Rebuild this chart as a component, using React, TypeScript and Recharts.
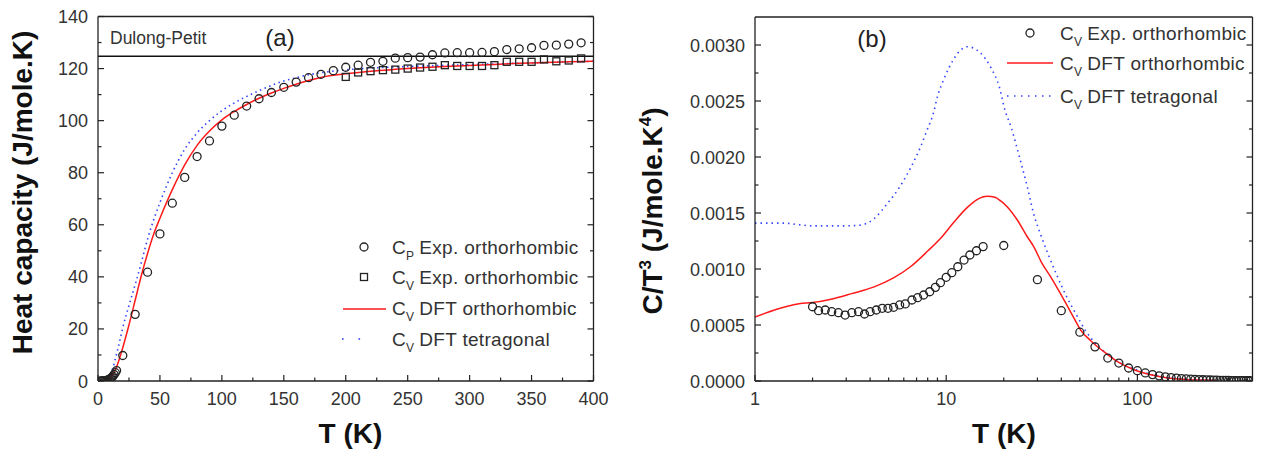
import { ComposedChart, Line, ReferenceLine, Scatter, XAxis, YAxis } from "recharts";

// ---- panel (a): heat capacity vs T ----
const cpExp: [number, number][] = [
  [2, 0.005], [3, 0.017], [4, 0.04], [5, 0.08], [6, 0.15], [7, 0.25], [8, 0.4], [9, 0.62],
  [10, 0.92], [11, 1.3], [12, 1.85], [13, 2.5], [14, 3.2], [15, 4.0],
  [20, 9.8], [30, 25.6], [40, 41.8], [50, 56.5], [60, 68.3], [70, 78.2], [80, 86.2], [90, 92.2],
  [100, 97.9], [110, 102.1], [120, 105.6], [130, 108.4], [140, 110.8], [150, 112.8], [160, 114.8],
  [170, 116.5], [180, 117.8], [190, 119.2], [200, 120.5], [210, 121.3], [220, 122.4], [230, 122.8],
  [240, 124.0], [250, 124.2], [260, 124.4], [270, 125.3], [280, 126.0], [290, 126.1], [300, 126.1],
  [310, 126.2], [320, 126.5], [330, 127.3], [340, 127.6], [350, 128.0], [360, 128.9], [370, 129.0],
  [380, 129.4], [390, 129.9],
];

const cvExp: [number, number][] = [
  [200, 116.8], [210, 118.5], [220, 119.0], [230, 119.4], [240, 119.6], [250, 120.0], [260, 120.4],
  [270, 120.7], [280, 121.3], [290, 121.0], [300, 121.0], [310, 121.0], [320, 121.3], [330, 122.6],
  [340, 122.6], [350, 122.6], [360, 123.5], [370, 122.8], [380, 123.1], [390, 123.9],
];

const cvDftOrtho: [number, number][] = [
  [5, 0.07], [8, 0.6], [10, 1.3], [12, 2.5], [14, 4.3], [16, 6.7], [18, 9.6], [20, 12.8], [25, 21.5],
  [30, 31], [35, 40.5], [40, 49], [45, 56.5], [50, 62.5], [60, 73.5], [70, 83], [80, 90.5], [90, 96],
  [100, 100.3], [110, 103.5], [120, 106.2], [130, 108.6], [140, 110.6], [150, 112.4], [160, 114],
  [170, 115.4], [180, 116.6], [190, 117.4], [200, 118], [220, 119], [240, 119.7], [260, 120.3],
  [280, 120.8], [300, 121.2], [320, 121.6], [340, 122], [360, 122.3], [380, 122.6], [400, 122.8],
];

const cvDftTetra: [number, number][] = [
  [8, 0.8], [10, 2.7], [12, 5], [14, 8.5], [16, 12.3], [18, 16.3], [20, 20.5], [25, 29], [30, 37],
  [35, 45.5], [40, 54.5], [45, 62], [50, 68.5], [55, 74.5], [60, 80], [65, 84.8], [70, 89], [80, 95.3],
  [90, 100], [100, 103.8], [110, 106.8], [120, 109.3], [130, 111.5], [140, 113.5], [150, 115.2],
  [160, 116.5], [170, 117.6], [180, 118.4], [200, 119.5], [220, 120.2], [250, 120.8], [300, 121.5],
  [350, 122.2], [400, 122.8],
];

const dulongPetit = 124.7;

const xTicksA = [0, 25, 50, 75, 100, 125, 150, 175, 200, 225, 250, 275, 300, 325, 350, 375, 400];
const yTicksA = [0, 10, 20, 30, 40, 50, 60, 70, 80, 90, 100, 110, 120, 130, 140];

// ---- panel (b): C/T^3 vs T, log T ----
const cvExpRatio: [number, number][] = [
  [2.0, 0.000663], [2.15, 0.000628], [2.33, 0.000634], [2.52, 0.000619], [2.73, 0.00061],
  [2.96, 0.000589], [3.21, 0.00061], [3.48, 0.000619], [3.74, 0.000598], [4.0, 0.000619],
  [4.31, 0.000634], [4.63, 0.000649], [4.96, 0.000649], [5.31, 0.000658], [5.71, 0.000679],
  [6.11, 0.000688], [6.62, 0.000723], [7.09, 0.000744], [7.62, 0.000768], [8.2, 0.000797],
  [8.78, 0.000836], [9.33, 0.000878], [10.0, 0.000926], [10.7, 0.000967], [11.5, 0.00102],
  [12.4, 0.00108], [13.3, 0.001125], [14.4, 0.001163], [15.6, 0.0012],
  [20, 0.00121], [30, 0.000905], [40, 0.000628], [50, 0.000436], [60, 0.000305], [70, 0.000205],
  [80, 0.00016], [90, 0.000116], [100, 0.000092], [110, 0.000072], [120, 0.000057], [130, 0.000046],
  [140, 0.000037], [150, 0.000031], [160, 0.000026], [170, 0.000022], [180, 0.000019],
  [190, 0.000016], [200, 0.000014], [210, 0.000012], [220, 0.000011], [230, 0.00001],
  [240, 0.000009], [250, 0.000008], [260, 0.0000071], [270, 0.0000064], [280, 0.0000057],
  [290, 0.0000052], [300, 0.0000047], [310, 0.0000042], [320, 0.0000039], [330, 0.0000035],
  [340, 0.0000032], [350, 0.000003], [360, 0.0000028], [370, 0.0000025], [380, 0.0000024],
  [390, 0.0000022],
];

const dftOrthoRatio: [number, number][] = [
  [1, 0.00057], [1.3, 0.00064], [1.7, 0.00069], [2, 0.0007], [2.5, 0.00073], [3.2, 0.00078],
  [4.2, 0.00084], [5.3, 0.00092], [6.5, 0.00102], [8, 0.00116], [9.3, 0.00127], [11, 0.00142],
  [12.9, 0.00155], [14.5, 0.00162], [16.4, 0.00165], [18, 0.00164], [19.2, 0.00161], [21, 0.00155],
  [23.5, 0.00144], [26.5, 0.00129], [28.7, 0.0012], [31.5, 0.00106], [35.2, 0.00093], [39, 0.0008],
  [43, 0.00067], [47, 0.00055], [50.5, 0.000455], [57, 0.00036], [67, 0.00026], [78.7, 0.000172],
  [96, 0.0001], [117.5, 0.000055], [144, 0.000027], [180, 0.000014], [220, 0.000008], [260, 0.000005],
];

const dftTetraRatio: [number, number][] = [
  [1, 0.00141], [1.4, 0.00141], [1.7, 0.001395], [2, 0.001385], [2.8, 0.001385], [3.5, 0.00139],
  [4.2, 0.00145], [4.9, 0.00158], [5.7, 0.00173], [6.5, 0.0019], [7.3, 0.00208], [7.9, 0.00223],
  [8.6, 0.0024], [9, 0.00254], [9.7, 0.00269], [11, 0.00288], [12, 0.00296], [12.9, 0.002985],
  [14, 0.00297], [15.1, 0.00293], [17.1, 0.0028], [19, 0.00262], [20.2, 0.00243], [21.8, 0.00227],
  [24.6, 0.00195], [26.5, 0.00174], [28.7, 0.00149], [31.3, 0.0013], [34, 0.00114], [38, 0.00094],
  [43, 0.00074], [48.4, 0.00058], [53.5, 0.00045], [61.6, 0.00032], [72.5, 0.000217],
  [89, 0.000128], [100, 0.000098], [120, 0.000055], [150, 0.000027], [200, 0.000012], [260, 0.000005],
];

const xTicksB = [1, 2, 3, 4, 5, 6, 7, 8, 9, 10, 20, 30, 40, 50, 60, 70, 80, 90, 100, 200, 300];
const xLabelsB = [1, 10, 100];
const yTicksB = [
  0, 0.00025, 0.0005, 0.00075, 0.001, 0.00125, 0.0015, 0.00175, 0.002, 0.00225, 0.0025, 0.00275,
  0.003,
];

const FONT = '"Liberation Sans", Arial, Helvetica, sans-serif';
const INK = "#222";
const TEXT = "#333";
const RED = "#ff1a1a";
const BLUE = "#3344ff";

const pts = (a: [number, number][]) => a.map(([t, c]) => ({ t, c }));

type Side = "bottom" | "top" | "left" | "right";

// inward tick marks, long for labelled values, short otherwise
function tickMarks(side: Side, isMajor: (v: number) => boolean, fmt: (v: number) => string) {
  return function TickMark(props: any) {
    const { x, y, payload } = props;
    const v = payload.value as number;
    const major = isMajor(v);
    const len = major ? 6 : 3.5;
    let x2 = x;
    let y2 = y;
    if (side === "bottom") y2 = y - len;
    if (side === "top") y2 = y + len;
    if (side === "left") x2 = x + len;
    if (side === "right") x2 = x - len;
    return (
      <g>
        <line x1={x} y1={y} x2={x2} y2={y2} stroke={INK} strokeWidth={1.2} />
        {major && side === "bottom" && (
          <text x={x} y={y + 24} textAnchor="middle" fontFamily={FONT} fontSize={18} fill={TEXT}>
            {fmt(v)}
          </text>
        )}
        {major && side === "left" && (
          <text x={x - 10} y={y + 6.5} textAnchor="end" fontFamily={FONT} fontSize={18} fill={TEXT}>
            {fmt(v)}
          </text>
        )}
      </g>
    );
  };
}

const ring = (p: any) => (
  <circle cx={p.cx} cy={p.cy} r={4} fill="none" stroke={INK} strokeWidth={1.3} />
);
const box = (p: any) => (
  <rect x={p.cx - 3.5} y={p.cy - 3.5} width={7} height={7} fill="none" stroke={INK} strokeWidth={1.3} />
);

const axisLine = { stroke: INK, strokeWidth: 1.3 };
const majA50 = (v: number) => v % 50 === 0;
const majA20 = (v: number) => v % 20 === 0;
const majBx = (v: number) => xLabelsB.includes(v);
const majBy = (v: number) => Math.abs(v * 2000 - Math.round(v * 2000)) < 1e-6;

function PanelA() {
  return (
    <ComposedChart width={620} height={457} margin={{ top: 15.5, right: 25.5, bottom: 46, left: 38 }}>
      <XAxis
        dataKey="t"
        type="number"
        domain={[0, 400]}
        allowDataOverflow
        ticks={xTicksA}
        interval={0}
        height={30}
        tickSize={0}
        tickMargin={0}
        tickLine={false}
        axisLine={axisLine}
        tick={tickMarks("bottom", majA50, String)}
      />
      <XAxis
        xAxisId="top"
        orientation="top"
        type="number"
        domain={[0, 400]}
        allowDataOverflow
        ticks={xTicksA}
        interval={0}
        height={1}
        tickSize={0}
        tickMargin={0}
        tickLine={false}
        axisLine={axisLine}
        tick={tickMarks("top", majA50, String)}
      />
      <YAxis
        dataKey="c"
        type="number"
        domain={[0, 140]}
        allowDataOverflow
        ticks={yTicksA}
        interval={0}
        width={60}
        tickSize={0}
        tickMargin={0}
        tickLine={false}
        axisLine={axisLine}
        tick={tickMarks("left", majA20, String)}
      />
      <YAxis
        yAxisId="right"
        orientation="right"
        type="number"
        domain={[0, 140]}
        allowDataOverflow
        ticks={yTicksA}
        interval={0}
        width={1}
        tickSize={0}
        tickMargin={0}
        tickLine={false}
        axisLine={axisLine}
        tick={tickMarks("right", majA20, String)}
      />
      <ReferenceLine y={dulongPetit} stroke="#111" strokeWidth={1.5} />
      <Line data={pts(cvDftTetra)} dataKey="c" type="monotone" stroke={BLUE} strokeWidth={1.6}
        strokeDasharray="1.5 3.5" dot={false} isAnimationActive={false} />
      <Line data={pts(cvDftOrtho)} dataKey="c" type="monotone" stroke={RED} strokeWidth={1.5}
        dot={false} isAnimationActive={false} />
      <Scatter data={pts(cvExp)} shape={box} isAnimationActive={false} />
      <Scatter data={pts(cpExp)} shape={ring} isAnimationActive={false} />
    </ComposedChart>
  );
}

function PanelB() {
  return (
    <ComposedChart width={643} height={457} margin={{ top: 16, right: 9.5, bottom: 46, left: 75 }}>
      <XAxis
        dataKey="t"
        type="number"
        scale="log"
        domain={[1, 400]}
        allowDataOverflow
        ticks={xTicksB}
        interval={0}
        height={30}
        tickSize={0}
        tickMargin={0}
        tickLine={false}
        axisLine={axisLine}
        tick={tickMarks("bottom", majBx, String)}
      />
      <XAxis
        xAxisId="top"
        orientation="top"
        type="number"
        scale="log"
        domain={[1, 400]}
        allowDataOverflow
        ticks={xTicksB}
        interval={0}
        height={1}
        tickSize={0}
        tickMargin={0}
        tickLine={false}
        axisLine={axisLine}
        tick={tickMarks("top", majBx, String)}
      />
      <YAxis
        dataKey="c"
        type="number"
        domain={[0, 0.00325]}
        allowDataOverflow
        ticks={yTicksB}
        interval={0}
        width={60}
        tickSize={0}
        tickMargin={0}
        tickLine={false}
        axisLine={axisLine}
        tick={tickMarks("left", majBy, (v) => v.toFixed(4))}
      />
      <YAxis
        yAxisId="right"
        orientation="right"
        type="number"
        domain={[0, 0.00325]}
        allowDataOverflow
        ticks={yTicksB}
        interval={0}
        width={1}
        tickSize={0}
        tickMargin={0}
        tickLine={false}
        axisLine={axisLine}
        tick={tickMarks("right", majBy, (v) => v.toFixed(4))}
      />
      <Line data={pts(dftTetraRatio)} dataKey="c" type="monotone" stroke={BLUE} strokeWidth={1.6}
        strokeDasharray="1.5 4" dot={false} isAnimationActive={false} />
      <Line data={pts(dftOrthoRatio)} dataKey="c" type="monotone" stroke={RED} strokeWidth={1.5}
        dot={false} isAnimationActive={false} />
      <Scatter data={pts(cvExpRatio)} shape={ring} isAnimationActive={false} />
    </ComposedChart>
  );
}

// "C" with a subscript, then the series description
function SubLabel({ x, y, sub, rest }: { x: number; y: number; sub: string; rest: string }) {
  return (
    <text x={x} y={y} fontFamily={FONT} fontSize={19} fill={TEXT} letterSpacing={0.3}>
      <tspan>C</tspan>
      <tspan dy={6} fontSize={12}>{sub}</tspan>
      <tspan dy={-6} dx={5}>{rest}</tspan>
    </text>
  );
}

function Overlay() {
  const title = { fontFamily: FONT, fontSize: 28, fontWeight: 700, fill: "#111" } as const;
  return (
    <svg width={1263} height={457} style={{ position: "absolute", left: 0, top: 0, pointerEvents: "none" }}>
      {/* panel (a) annotations */}
      <text x={110} y={44} fontFamily={FONT} fontSize={17.5} fill={TEXT}>Dulong-Petit</text>
      <text x={280} y={46} textAnchor="middle" fontFamily={FONT} fontSize={24} fill={INK}>(a)</text>
      <text transform="translate(32,192.5) rotate(-90)" textAnchor="middle" {...title}>
        Heat capacity (J/mole.K)
      </text>
      <text x={350.5} y={443} textAnchor="middle" {...title}>T (K)</text>

      <circle cx={364} cy={247} r={4} fill="none" stroke={INK} strokeWidth={1.3} />
      <SubLabel x={392} y={254} sub="P" rest="Exp. orthorhombic" />
      <rect x={360.5} y={273.5} width={7} height={7} fill="none" stroke={INK} strokeWidth={1.3} />
      <SubLabel x={392} y={284} sub="V" rest="Exp. orthorhombic" />
      <line x1={343} y1={309} x2={386} y2={309} stroke={RED} strokeWidth={1.5} />
      <SubLabel x={392} y={315} sub="V" rest="DFT orthorhombic" />
      <rect x={342} y={338.2} width={1.6} height={1.6} fill={BLUE} />
      <rect x={358.5} y={338.2} width={1.6} height={1.6} fill={BLUE} />
      <SubLabel x={392} y={346} sub="V" rest="DFT tetragonal" />

      {/* panel (b) annotations */}
      <text x={872} y={47} textAnchor="middle" fontFamily={FONT} fontSize={24} fill={INK}>(b)</text>
      <text transform="translate(662,211) rotate(-90)" textAnchor="middle" {...title}>
        <tspan>C/T</tspan>
        <tspan dy={-11} fontSize={17}>3</tspan>
        <tspan dy={11}> (J/mole.K</tspan>
        <tspan dy={-11} fontSize={17}>4</tspan>
        <tspan dy={11}>)</tspan>
      </text>
      <text x={1004} y={443} textAnchor="middle" {...title}>T (K)</text>

      <circle cx={1030} cy={33} r={4} fill="none" stroke={INK} strokeWidth={1.3} />
      <SubLabel x={1060} y={40} sub="V" rest="Exp. orthorhombic" />
      <line x1={1007} y1={63} x2={1053} y2={63} stroke={RED} strokeWidth={1.5} />
      <SubLabel x={1060} y={70} sub="V" rest="DFT orthorhombic" />
      <line x1={1007} y1={96} x2={1053} y2={96} stroke={BLUE} strokeWidth={1.6} strokeDasharray="1.5 5.5" />
      <SubLabel x={1060} y={103} sub="V" rest="DFT tetragonal" />
    </svg>
  );
}

export default function App() {
  return (
    <div style={{ position: "absolute", left: 0, top: 0, width: 1263, height: 457, background: "#fff" }}>
      <div style={{ position: "absolute", left: 0, top: 0 }}>
        <PanelA />
      </div>
      <div style={{ position: "absolute", left: 620, top: 0 }}>
        <PanelB />
      </div>
      <Overlay />
    </div>
  );
}
